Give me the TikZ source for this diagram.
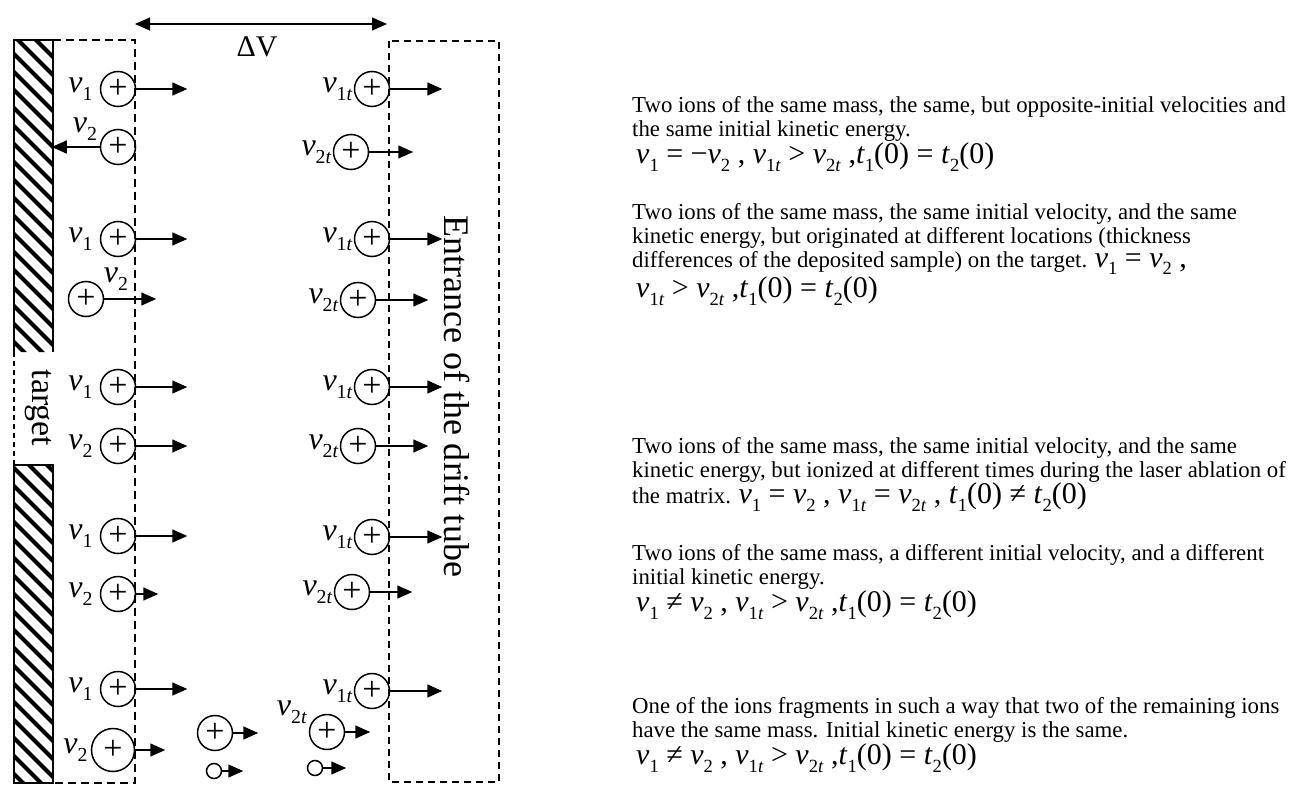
\documentclass[tikz,border=0pt]{standalone}
\usepackage{fontspec}
\setmainfont{Liberation Serif}
\usepackage{graphicx}
\usetikzlibrary{arrows.meta,positioning}

\newcommand{\lo}[1]{\raisebox{-0.25em}{\scalebox{0.62}{#1}}}
\newcommand{\nv}[1]{\textit{ν}\lo{#1}}
\newcommand{\tv}[1]{\textit{t}\lo{#1}}
\newcommand{\eqsize}{\fontsize{30}{30}\selectfont}

\begin{document}
\begin{tikzpicture}[x=1pt,y=-1pt,
    >={Triangle[length=15pt,width=13pt]},
    ion/.style={circle,draw,line width=1.5pt,inner sep=0pt,minimum size=35pt,font=\fontsize{34}{34}\selectfont},
    frag/.style={circle,draw,line width=1.5pt,inner sep=0pt,minimum size=15pt},
    vlab/.style={inner sep=1pt,font=\fontsize{32}{32}\selectfont},
    fly/.style={->,line width=1.5pt},
    wall/.style={line width=2pt,dash pattern=on 8pt off 5pt},
    tube/.style={line width=1.5pt,dash pattern=on 7pt off 5pt},
    desc/.style={anchor=north west,align=left,inner sep=0pt,font=\fontsize{22.8}{24}\selectfont}]
  \useasboundingbox (0,0) rectangle (1289,799);

  % target with hatching
  \begin{scope}
    \clip (14,40) rectangle (53,352) (14,465) rectangle (53,783);
    \foreach \k in {-40,-22,...,800}
      \draw[line width=4pt] (10,\k) -- ++(50,50);
  \end{scope}
  \draw[line width=2pt] (14,352) -- (14,40) -- (53,40) -- (53,352);
  \draw[line width=2pt] (53,465) -- (14,465) -- (14,783) -- (53,783) -- cycle;
  \draw[line width=2pt,dash pattern=on 5pt off 4pt] (14,352) -- (14,465);
  \node[rotate=-90,font=\fontsize{34}{34}\selectfont] (target) at (38,408) {target};

  % acceleration region and drift tube entrance
  \draw[wall] (53,40) -- (135,40) -- (135,783) -- (53,783);
  \draw[tube] (389,41) rectangle (499,782);
  \node[rotate=-90,font=\fontsize{36}{36}\selectfont] (entr) at (457,396) {Entrance of the drift tube};
  \coordinate (gridL) at (135,24);
  \coordinate (gridR) at (387,24);
  \draw[{Triangle[length=15pt,width=13pt]}-{Triangle[length=15pt,width=13pt]},line width=1.5pt] (gridL) -- (gridR);
  \node[font=\fontsize{30}{30}\selectfont] (dv) at (257,47) {ΔV};

  % ions at the target
  \node[ion] (a1) at (118,89) {+};
  \node[ion] (a2) at (118,147) {+};
  \node[ion] (a3) at (118,239) {+};
  \node[ion] (a4) at (86,299) {+};
  \node[ion] (a5) at (118,387) {+};
  \node[ion] (a6) at (118,446) {+};
  \node[ion] (a7) at (118,536) {+};
  \node[ion] (a8) at (118,594) {+};
  \node[ion] (a9) at (118,689) {+};
  \node[ion,minimum size=43pt] (a10) at (113,750) {+};
  \node[ion] (a11) at (215,733) {+};
  \node[frag] (a12) at (214,771) {};
  \node[vlab,left=6pt of a1] (va1) {\nv{1}};
  \node[vlab] (va2) at (85,129) {\nv{2}};
  \node[vlab,left=6pt of a3] (va3) {\nv{1}};
  \node[vlab] (va4) at (116,279) {\nv{2}};
  \node[vlab,left=6pt of a5] (va5) {\nv{1}};
  \node[vlab,left=6pt of a6] (va6) {\nv{2}};
  \node[vlab,left=6pt of a7] (va7) {\nv{1}};
  \node[vlab,left=6pt of a8] (va8) {\nv{2}};
  \node[vlab,left=6pt of a9] (va9) {\nv{1}};
  \node[vlab,left=2pt of a10] (va10) {\nv{2}};
  \draw[fly] (a1.east) -- ++(51,0);
  \draw[fly] (a2.west) -- ++(-48,0);
  \draw[fly] (a3.east) -- ++(51,0);
  \draw[fly] (a4.east) -- ++(52,0);
  \draw[fly] (a5.east) -- ++(51,0);
  \draw[fly] (a6.east) -- ++(51,0);
  \draw[fly] (a7.east) -- ++(51,0);
  \draw[fly] (a8.east) -- ++(22,0);
  \draw[fly] (a9.east) -- ++(51,0);
  \draw[fly] (a10.east) -- ++(30,0);
  \draw[fly] (a11.east) -- ++(25,0);
  \draw[fly] (a12.east) -- ++(21,0);

  % ions at the tube entrance
  \node[ion] (b1) at (372,89) {+};
  \node[ion] (b2) at (351,152) {+};
  \node[ion] (b3) at (372,239) {+};
  \node[ion] (b4) at (358,300) {+};
  \node[ion] (b5) at (372,387) {+};
  \node[ion] (b6) at (358,446) {+};
  \node[ion] (b7) at (372,537) {+};
  \node[ion] (b8) at (352,592) {+};
  \node[ion] (b9) at (372,691) {+};
  \node[ion] (b10) at (327,732) {+};
  \node[frag] (b11) at (315,768) {};
  \node[vlab,left=0pt of b1] (vb1) {\nv{1\textit{t}}};
  \node[vlab,left=0pt of b2] (vb2) {\nv{2\textit{t}}};
  \node[vlab,left=0pt of b3] (vb3) {\nv{1\textit{t}}};
  \node[vlab,left=0pt of b4] (vb4) {\nv{2\textit{t}}};
  \node[vlab,left=0pt of b5] (vb5) {\nv{1\textit{t}}};
  \node[vlab,left=0pt of b6] (vb6) {\nv{2\textit{t}}};
  \node[vlab,left=0pt of b7] (vb7) {\nv{1\textit{t}}};
  \node[vlab,left=0pt of b8] (vb8) {\nv{2\textit{t}}};
  \node[vlab,left=0pt of b9] (vb9) {\nv{1\textit{t}}};
  \node[vlab] (vb10) at (292,712) {\nv{2\textit{t}}};
  \draw[fly] (b1.east) -- ++(52,0);
  \draw[fly] (b2.east) -- ++(44,0);
  \draw[fly] (b3.east) -- ++(52,0);
  \draw[fly] (b4.east) -- ++(52,0);
  \draw[fly] (b5.east) -- ++(52,0);
  \draw[fly] (b6.east) -- ++(52,0);
  \draw[fly] (b7.east) -- ++(52,0);
  \draw[fly] (b8.east) -- ++(42,0);
  \draw[fly] (b9.east) -- ++(52,0);
  \draw[fly] (b10.east) -- ++(25,0);
  \draw[fly] (b11.east) -- ++(23,0);

  % explanations
  \node[desc] (case1) at (632,96) {Two ions of the same mass, the same, but opposite-initial velocities and\\
    the same initial kinetic energy.\\[1pt]
    \hspace*{4pt}{\eqsize \nv{1} = −\nv{2} , \nv{1\textit{t}} > \nv{2\textit{t}} ,\tv{1}(0) = \tv{2}(0)}};
  \node[desc] (case2) at (632,203) {Two ions of the same mass, the same initial velocity, and the same\\
    kinetic energy, but originated at different locations (thickness\\
    differences of the deposited sample) on the target. {\eqsize \nv{1} = \nv{2} ,}\\[1pt]
    \hspace*{4pt}{\eqsize \nv{1\textit{t}} > \nv{2\textit{t}} ,\tv{1}(0) = \tv{2}(0)}};
  \node[desc] (case3) at (632,437) {Two ions of the same mass, the same initial velocity, and the same\\
    kinetic energy, but ionized at different times during the laser ablation of\\
    the matrix. {\eqsize \nv{1} = \nv{2} , \nv{1\textit{t}} = \nv{2\textit{t}} , \tv{1}(0) ≠ \tv{2}(0)}};
  \node[desc] (case4) at (632,544) {Two ions of the same mass, a different initial velocity, and a different\\
    initial kinetic energy.\\[1pt]
    \hspace*{4pt}{\eqsize \nv{1} ≠ \nv{2} , \nv{1\textit{t}} > \nv{2\textit{t}} ,\tv{1}(0) = \tv{2}(0)}};
  \node[desc] (case5) at (632,697) {One of the ions fragments in such a way that two of the remaining ions\\
    have the same mass. Initial kinetic energy is the same.\\[1pt]
    \hspace*{4pt}{\eqsize \nv{1} ≠ \nv{2} , \nv{1\textit{t}} > \nv{2\textit{t}} ,\tv{1}(0) = \tv{2}(0)}};
\end{tikzpicture}
\end{document}
